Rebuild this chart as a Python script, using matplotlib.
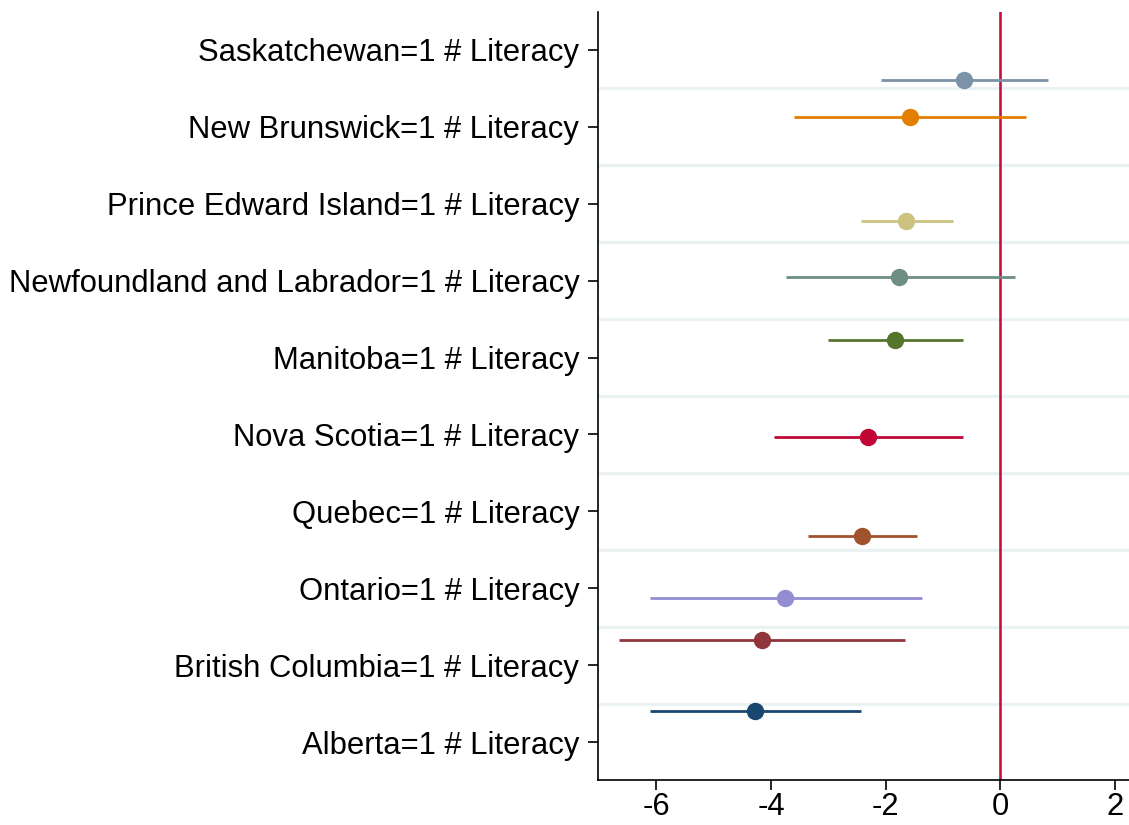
import matplotlib.pyplot as plt

plt.rcParams['font.family'] = ['Liberation Sans', 'DejaVu Sans']
plt.rcParams['axes.unicode_minus'] = False

# Coefficients (interaction with literacy) by province, top to bottom
labels = [
    "Saskatchewan=1 # Literacy",
    "New Brunswick=1 # Literacy",
    "Prince Edward Island=1 # Literacy",
    "Newfoundland and Labrador=1 # Literacy",
    "Manitoba=1 # Literacy",
    "Nova Scotia=1 # Literacy",
    "Quebec=1 # Literacy",
    "Ontario=1 # Literacy",
    "British Columbia=1 # Literacy",
    "Alberta=1 # Literacy",
]
coef = [-0.63, -1.57, -1.64, -1.76, -1.83, -2.30, -2.41, -3.75, -4.15, -4.28]
ci_low = [-2.08, -3.60, -2.43, -3.73, -3.00, -3.94, -3.35, -6.11, -6.65, -6.11]
ci_high = [0.84, 0.45, -0.82, 0.26, -0.65, -0.65, -1.45, -1.36, -1.66, -2.43]
# vertical placement of each estimate (in label rows)
row_pos = [0.40, 0.87, 2.22, 2.96, 3.77, 5.03, 6.32, 7.13, 7.67, 8.59]
colors = ['#7b92a8', '#e37e00', '#cac27e', '#6e8e84', '#55752f',
          '#c10534', '#a0522d', '#938dd2', '#90353b', '#1a476f']

fig = plt.figure(figsize=(11.29, 8.25), dpi=100)
ax = fig.add_axes([0.5297, 0.0545, 0.4703, 0.931])

for y in [i + 0.5 for i in range(len(labels) - 1)]:
    ax.axhline(y, color='#eaf2f3', lw=2.4, zorder=0)

ax.axvline(0, color='#c8103e', lw=1.9, zorder=1)

for i in range(len(labels)):
    ax.plot([ci_low[i], ci_high[i]], [row_pos[i], row_pos[i]],
            color=colors[i], lw=2.0, solid_capstyle='butt', zorder=2)
    ax.plot(coef[i], row_pos[i], 'o', color=colors[i], ms=11.5, zorder=3)

ax.set_yticks(range(len(labels)))
ax.set_yticklabels(labels)
ax.set_ylim(9.49, -0.49)
ax.set_xlim(-7.02, 2.25)
ax.set_xticks([-6, -4, -2, 0, 2])

for side in ['top', 'right']:
    ax.spines[side].set_visible(False)
for side in ['left', 'bottom']:
    ax.spines[side].set_linewidth(1.2)
ax.tick_params(axis='both', labelsize=22.3, length=7.5, width=1.2)
ax.tick_params(axis='y', pad=6)
ax.tick_params(axis='x', pad=1)

fig.savefig('out.png', dpi=100)
